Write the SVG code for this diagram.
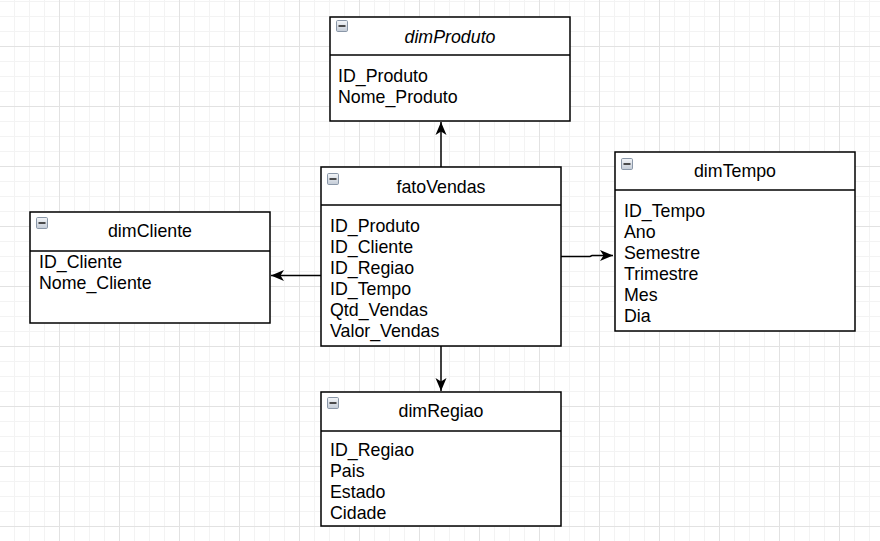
<svg xmlns="http://www.w3.org/2000/svg" width="880" height="541" viewBox="0 0 880 541">
<defs>
<pattern id="grid" patternUnits="userSpaceOnUse" x="59" y="46" width="60" height="60">
<rect x="15" y="0" width="1" height="60" fill="#f3f3f3"/>
<rect x="30" y="0" width="1" height="60" fill="#f3f3f3"/>
<rect x="45" y="0" width="1" height="60" fill="#f3f3f3"/>
<rect x="0" y="15" width="60" height="1" fill="#f3f3f3"/>
<rect x="0" y="30" width="60" height="1" fill="#f3f3f3"/>
<rect x="0" y="45" width="60" height="1" fill="#f3f3f3"/>
<rect x="0" y="0" width="1" height="60" fill="#e2e2e2"/>
<rect x="0" y="0" width="60" height="1" fill="#e2e2e2"/>
</pattern>
<linearGradient id="ig" x1="0" y1="0" x2="0" y2="1">
<stop offset="0" stop-color="#f4f6f9"/>
<stop offset="1" stop-color="#c3cbd6"/>
</linearGradient>
<marker id="arr" viewBox="0 0 14 12" refX="13" refY="6" markerWidth="14" markerHeight="12" markerUnits="userSpaceOnUse" orient="auto">
<path d="M13,6 L0,0.5 L3.5,6 L0,11.5 Z" fill="#000"/>
</marker>
<g id="icon">
<rect x="0.5" y="0.5" width="11" height="11" rx="1.2" fill="url(#ig)" stroke="#8a97a8" stroke-width="1"/>
<rect x="2.5" y="5.1" width="7" height="1.8" fill="#3a3a3a"/>
</g>
</defs>
<style>
.box{fill:#fff;stroke:#000;stroke-width:1.5}
.div{stroke:#000;stroke-width:1.5}
.t{font-family:"Liberation Sans",Arial,sans-serif;font-size:17.8px;fill:#000}
.h{text-anchor:middle}
.conn{fill:none;stroke:#000;stroke-width:1.5;marker-end:url(#arr)}
</style>
<rect x="0" y="0" width="880" height="541" fill="#fff"/>
<rect x="0" y="0" width="880" height="541" fill="url(#grid)"/>

<g id="connectors">
<path class="conn" d="M441,167 V122"/>
<path class="conn" d="M561,256.5 H590 L592,255.5 H613"/>
<path class="conn" d="M321,275.5 H271"/>
<path class="conn" d="M441,346 V391"/>
</g>

<g id="dimProduto">
<rect class="box" x="330" y="17" width="240" height="104"/>
<line class="div" x1="330" y1="55" x2="570" y2="55"/>
<use href="#icon" x="336" y="20"/>
<text class="t h" x="450" y="43" font-style="italic">dimProduto</text>
<text class="t" x="338" y="82">ID_Produto</text>
<text class="t" x="338" y="103">Nome_Produto</text>
</g>

<g id="fatoVendas">
<rect class="box" x="321" y="167" width="240" height="179"/>
<line class="div" x1="321" y1="205" x2="561" y2="205"/>
<use href="#icon" x="327" y="173"/>
<text class="t h" x="441" y="193">fatoVendas</text>
<text class="t" x="330" y="232">ID_Produto</text>
<text class="t" x="330" y="253">ID_Cliente</text>
<text class="t" x="330" y="274">ID_Regiao</text>
<text class="t" x="330" y="295">ID_Tempo</text>
<text class="t" x="330" y="316">Qtd_Vendas</text>
<text class="t" x="330" y="337">Valor_Vendas</text>
</g>

<g id="dimTempo">
<rect class="box" x="615" y="152" width="240" height="179"/>
<line class="div" x1="615" y1="190" x2="855" y2="190"/>
<use href="#icon" x="621" y="158"/>
<text class="t h" x="735" y="177">dimTempo</text>
<text class="t" x="624" y="217">ID_Tempo</text>
<text class="t" x="624" y="238">Ano</text>
<text class="t" x="624" y="259">Semestre</text>
<text class="t" x="624" y="280">Trimestre</text>
<text class="t" x="624" y="301">Mes</text>
<text class="t" x="624" y="322">Dia</text>
</g>

<g id="dimCliente">
<rect class="box" x="30" y="212" width="240" height="111"/>
<line class="div" x1="30" y1="251" x2="270" y2="251"/>
<use href="#icon" x="36" y="217"/>
<text class="t h" x="150" y="237">dimCliente</text>
<text class="t" x="39" y="268">ID_Cliente</text>
<text class="t" x="39" y="289">Nome_Cliente</text>
</g>

<g id="dimRegiao">
<rect class="box" x="321" y="392" width="240" height="134"/>
<line class="div" x1="321" y1="431" x2="561" y2="431"/>
<use href="#icon" x="327" y="397"/>
<text class="t h" x="441" y="417">dimRegiao</text>
<text class="t" x="330" y="456">ID_Regiao</text>
<text class="t" x="330" y="477">Pais</text>
<text class="t" x="330" y="498">Estado</text>
<text class="t" x="330" y="519">Cidade</text>
</g>
</svg>
